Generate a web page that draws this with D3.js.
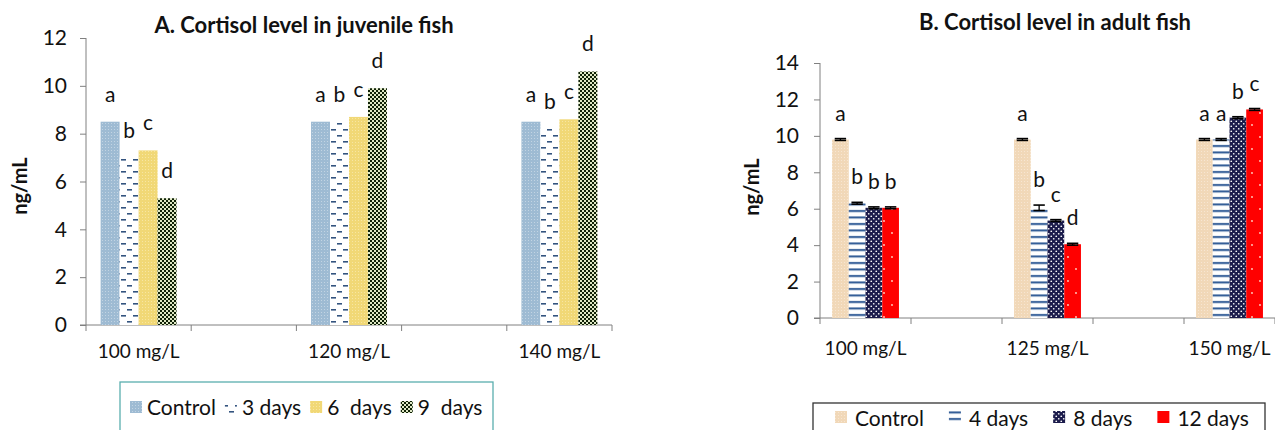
<!DOCTYPE html>
<html><head><meta charset="utf-8">
<script src="https://cdn.jsdelivr.net/npm/d3@7"></script>
<style>
body{margin:0;background:#fff;}
text{font-family:Lato,"Open Sans",sans-serif;fill:#111;white-space:pre;}
</style>
</head><body>
<svg id="c" width="1275" height="430"></svg>
<script>
// ---------- DATA ----------
const slotsA = ["100 mg/L", "", "120 mg/L", "", "140 mg/L"];
const groupsA = ["100 mg/L", "120 mg/L", "140 mg/L"];
const seriesA = ["Control", "3 days", "6  days", "9  days"];
const controlA = [8.5, 8.5, 8.5];
const days3A  = [7.0, 8.5, 8.2];
const days6A  = [7.3, 8.7, 8.6];
const days9A  = [5.3, 9.9, 10.6];
const lettersA = [["a","a","a"],["b","b","b"],["c","c","c"],["d","d","d"]];
const ticksA = [0, 2, 4, 6, 8, 10, 12];

const slotsB = ["100 mg/L", "", "125 mg/L", "", "150 mg/L"];
const groupsB = ["100 mg/L", "125 mg/L", "150 mg/L"];
const seriesB = ["Control", "4 days", "8 days", "12 days"];
const controlB = [9.8, 9.8, 9.8];
const days4B   = [6.3, 6.05, 9.8];
const days8B   = [6.05, 5.35, 11.0];
const days12B  = [6.05, 4.05, 11.45];
const errControlB = [0.05, 0.05, 0.05];
const errDays4B   = [0.05, 0.15, 0.05];
const errDays8B   = [0.05, 0.05, 0.05];
const errDays12B  = [0.05, 0.05, 0.05];
const lettersB = [["a","a","a"],["b","b","a"],["b","c","b"],["b","d","c"]];
const ticksB = [0, 2, 4, 6, 8, 10, 12, 14];

// ---------- SETUP ----------
const svg = d3.select("#c");
const defs = svg.append("defs");
function pat(id, w, h, bg, draw){
  const p = defs.append("pattern").attr("id", id).attr("patternUnits","userSpaceOnUse")
    .attr("width", w).attr("height", h);
  p.append("rect").attr("width", w).attr("height", h).attr("fill", bg);
  draw(p);
}
pat("pA0", 3, 3, "#9ebbd3", p => p.append("rect").attr("x",0).attr("y",0).attr("width",1).attr("height",1).attr("fill","#c2d4e3"));
pat("pA1", 12, 12, "#ffffff", p => {
  p.append("rect").attr("x",1).attr("y",3).attr("width",5).attr("height",1.6).attr("fill","#34547f");
  p.append("rect").attr("x",7).attr("y",9).attr("width",5).attr("height",1.6).attr("fill","#34547f");
});
pat("pA2", 3, 3, "#f1d876", p => p.append("rect").attr("x",1).attr("y",1).attr("width",1).attr("height",1).attr("fill","#f7e6a2"));
pat("pA3", 4, 4, "#0f2106", p => {
  p.append("rect").attr("x",0).attr("y",0).attr("width",2).attr("height",2).attr("fill","#dfe8c4");
  p.append("rect").attr("x",2).attr("y",2).attr("width",2).attr("height",2).attr("fill","#dfe8c4");
});
pat("pB0", 3, 3, "#f1d8b8", p => p.append("rect").attr("x",1).attr("y",1).attr("width",1).attr("height",1).attr("fill","#f7e6d2"));
pat("pB1", 6, 6.5, "#ffffff", p => p.append("rect").attr("x",0).attr("y",2).attr("width",6).attr("height",2).attr("fill","#2c5894"));
pat("pB2", 5, 5, "#1c1c4c", p => {
  p.append("circle").attr("cx",1.25).attr("cy",1.25).attr("r",0.85).attr("fill","#fff");
  p.append("circle").attr("cx",3.75).attr("cy",3.75).attr("r",0.85).attr("fill","#fff");
});
pat("pB3", 16, 24, "#ff0000", p => {
  p.append("circle").attr("cx",4).attr("cy",5).attr("r",0.9).attr("fill","#ffd8c8");
  p.append("circle").attr("cx",12).attr("cy",17).attr("r",0.9).attr("fill","#ffd8c8");
});

const axisColor = "#808080";

function panel(cfg){
  const g = svg.append("g");
  const x = d3.scaleBand().domain(cfg.slots.map((d,i)=>i)).range([cfg.x0, cfg.x1]).padding(0);
  const y = d3.scaleLinear().domain([0, cfg.ymax]).range([cfg.y0, cfg.yTop]);
  const inner = d3.scaleBand().domain(cfg.series.map((d,i)=>i)).range([0, x.bandwidth()])
    .paddingInner(0).paddingOuter(cfg.outer);

  // axes
  const yAx = g.append("g").attr("transform", `translate(${cfg.x0},0)`)
    .call(d3.axisLeft(y).tickValues(cfg.ticks).tickSize(6).tickPadding(cfg.tickPad).tickFormat(d3.format("d")));
  yAx.select(".domain").attr("stroke", axisColor).attr("d", `M0,${cfg.y0}V${cfg.yTop}`);
  yAx.selectAll(".tick line").attr("stroke", axisColor);
  yAx.selectAll(".tick text").style("font-family","Lato").style("font-size", "21px").attr("fill","#111");

  const xAx = g.append("g").attr("transform", `translate(0,${cfg.y0})`)
    .call(d3.axisBottom(x).tickValues([]).tickSizeOuter(0));
  xAx.select(".domain").attr("stroke", axisColor).attr("d", `M${cfg.x0-6},0H${cfg.x1}`);
  g.selectAll(".xt").data(d3.range(cfg.slots.length+1)).enter().append("line")
    .attr("x1", i => cfg.x0 + i*x.bandwidth()).attr("x2", i => cfg.x0 + i*x.bandwidth())
    .attr("y1", cfg.y0).attr("y2", cfg.y0+6).attr("stroke", axisColor);
  g.selectAll(".xl").data(cfg.slots.map((s,i)=>({s,i})).filter(d=>d.s)).enter().append("text")
    .attr("x", d => x(d.i) + x.bandwidth()/2).attr("y", cfg.xLabelY).attr("text-anchor","middle")
    .style("font-size","19px").text(d => d.s);

  // bars
  const slotOf = grp => cfg.slots.indexOf(grp);
  cfg.values.forEach((vals, si) => {
    const data = vals.map((v, gi) => ({v, gi, si, letter: cfg.letters[si][gi], err: cfg.errors ? cfg.errors[si][gi] : 0}));
    const bx = d => x(slotOf(cfg.groups[d.gi])) + inner(si);
    g.selectAll(".bar"+si).data(data).enter().append("rect")
      .attr("x", bx).attr("width", inner.bandwidth())
      .attr("y", d => y(d.v)).attr("height", d => cfg.y0 - y(d.v))
      .attr("fill", `url(#${cfg.pats[si]})`);
    if (cfg.errors) {
      const cx = d => bx(d) + inner.bandwidth()/2;
      const hw = inner.bandwidth()*0.34;
      data.forEach(d => {
        g.append("line").attr("x1", cx(d)).attr("x2", cx(d)).attr("y1", y(d.v - d.err)).attr("y2", y(d.v + d.err))
          .attr("stroke","#000").attr("stroke-width",1.3);
        [d.v + d.err, d.v - d.err].forEach(e => g.append("line")
          .attr("x1", cx(d)-hw).attr("x2", cx(d)+hw).attr("y1", y(e)).attr("y2", y(e))
          .attr("stroke","#000").attr("stroke-width",1.6));
      });
    }
    g.selectAll(".lab"+si).data(data).enter().append("text")
      .attr("x", d => bx(d) + inner.bandwidth()/2).attr("y", d => y(d.v + d.err) - cfg.letterGap)
      .attr("text-anchor","middle").style("font-size","21px").text(d => d.letter);
  });

  // title
  g.append("text").attr("x", cfg.titleX).attr("y", cfg.titleY).attr("text-anchor","middle")
    .style("font-weight","bold").style("font-size", cfg.titleSize+"px").text(cfg.title);
  // y label
  g.append("text").attr("transform", `translate(${cfg.yLabX},${cfg.yLabY}) rotate(-90)`)
    .attr("text-anchor","middle").style("font-weight","bold").style("font-size","20px").text("ng/mL");

  // legend
  const lg = g.append("g");
  lg.append("rect").attr("x", cfg.legX).attr("y", cfg.legY).attr("width", cfg.legW).attr("height", 60)
    .attr("fill","#fff").attr("stroke", cfg.legStroke).attr("stroke-width", 1.3);
  let cx = cfg.legX + cfg.legPadL;
  cfg.series.forEach((s, si) => {
    lg.append("rect").attr("x", cx).attr("y", cfg.legSwY).attr("width", 12).attr("height", 12)
      .attr("fill", `url(#${cfg.pats[si]})`);
    const t = lg.append("text").attr("x", cx + 12 + cfg.legSwGap).attr("y", cfg.legTextY)
      .style("font-size", "21px").text(s);
    cx = cx + 12 + cfg.legSwGap + t.node().getComputedTextLength() + cfg.legItemGap;
  });
}

panel({
  slots: slotsA, groups: groupsA, series: seriesA,
  values: [controlA, days3A, days6A, days9A], letters: lettersA,
  pats: ["pA0","pA1","pA2","pA3"], ticks: ticksA, ymax: 12,
  x0: 86, x1: 612, y0: 325, yTop: 38, outer: 0.77, tickPad: 13,
  xLabelY: 358, letterGap: 20,
  title: "A. Cortisol level in juvenile fish", titleX: 304, titleY: 33, titleSize: 22,
  yLabX: 27, yLabY: 186,
  legX: 120, legY: 382, legW: 373, legStroke: "#5aaeae", legPadL: 10, legSwY: 401, legTextY: 415,
  legSwGap: 5, legItemGap: 9
});

panel({
  slots: slotsB, groups: groupsB, series: seriesB,
  values: [controlB, days4B, days8B, days12B], letters: lettersB,
  errors: [errControlB, errDays4B, errDays8B, errDays12B],
  pats: ["pB0","pB1","pB2","pB3"], ticks: ticksB, ymax: 14,
  x0: 820, x1: 1275, y0: 318, yTop: 63, outer: 0.72, tickPad: 15,
  xLabelY: 355, letterGap: 18,
  title: "B. Cortisol level in adult fish", titleX: 1055, titleY: 30, titleSize: 22,
  yLabX: 759, yLabY: 187,
  legX: 813, legY: 403, legW: 452, legStroke: "#333", legPadL: 22, legSwY: 411, legTextY: 426,
  legSwGap: 8, legItemGap: 25
});
</script>
</body></html>
